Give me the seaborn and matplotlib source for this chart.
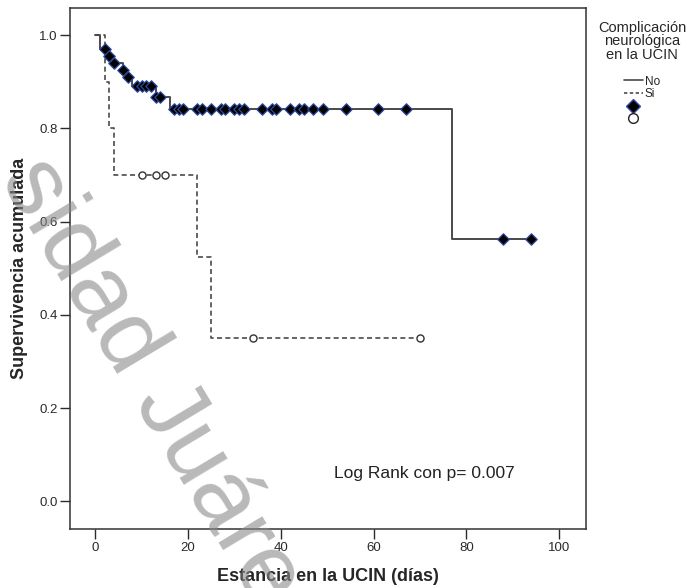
import numpy as np
import pandas as pd
import seaborn as sns
import matplotlib.pyplot as plt
from matplotlib.lines import Line2D

# Curva "No": tiempos de evento y supervivencia acumulada tras cada evento
no_tiempos = [0, 1, 3, 4, 6, 7, 8, 13, 16, 77]
no_superv = [1.0, 0.971, 0.956, 0.941, 0.925, 0.911, 0.891, 0.868, 0.841, 0.563]
no_fin = 94
no_censura = [2, 3, 4, 6, 7, 9, 10, 11, 12, 13, 14, 17, 18, 19, 22, 23, 25, 27, 28,
              30, 31, 32, 36, 38, 39, 42, 44, 45, 47, 49, 54, 61, 67, 88, 94]

# Curva "Si"
si_tiempos = [0, 2, 3, 4, 22, 25]
si_superv = [1.0, 0.9, 0.8, 0.7, 0.525, 0.35]
si_fin = 70
si_censura = [10, 13, 15, 34, 70]

x_ticks = [0, 20, 40, 60, 80, 100]
y_ticks = [0.0, 0.2, 0.4, 0.6, 0.8, 1.0]


def escalon(tiempos, superv, fin):
    return pd.DataFrame({"t": list(tiempos) + [fin], "s": list(superv) + [superv[-1]]})


def nivel(tiempos, superv, t):
    idx = np.searchsorted(tiempos, t, side="right") - 1
    return np.asarray(superv)[idx]


sns.set_style("ticks")
plt.rcParams["font.family"] = ["Liberation Sans", "DejaVu Sans"]

fig = plt.figure(figsize=(6.94, 5.88), dpi=100)
ax = fig.add_axes([0.101, 0.100, 0.743, 0.886])

gris = "#4a4a4a"
no_df = escalon(no_tiempos, no_superv, no_fin)
si_df = escalon(si_tiempos, si_superv, si_fin)
sns.lineplot(data=no_df, x="t", y="s", ax=ax, drawstyle="steps-post", color=gris,
             lw=1.4, estimator=None, sort=False)
sns.lineplot(data=si_df, x="t", y="s", ax=ax, drawstyle="steps-post", color=gris,
             lw=1.2, ls=(0, (3, 2)), estimator=None, sort=False)

no_cens = pd.DataFrame({"t": no_censura, "s": nivel(no_tiempos, no_superv, no_censura)})
si_cens = pd.DataFrame({"t": si_censura, "s": nivel(si_tiempos, si_superv, si_censura)})
sns.scatterplot(data=no_cens, x="t", y="s", ax=ax, marker="D", s=34, color="black",
                edgecolor="#2d4a9e", linewidth=0.9, zorder=3)
sns.scatterplot(data=si_cens, x="t", y="s", ax=ax, marker="o", s=26, facecolor="white",
                edgecolor="#333333", linewidth=1.0, zorder=3)

ax.set_xlim(-5.45, 105.75)
ax.set_ylim(-0.06, 1.058)
ax.set_xticks(x_ticks)
ax.set_yticks(y_ticks)
ax.set_yticklabels([f"{v:.1f}" for v in y_ticks])
ax.tick_params(length=7, width=1, labelsize=9.5, colors="#2a2a2a", pad=2)
for sp in ax.spines.values():
    sp.set_linewidth(1.1)
    sp.set_color("#333333")
ax.set_xlabel("Estancia en la UCIN (días)", fontsize=13, fontweight="bold", labelpad=10)
ax.set_ylabel("Supervivencia acumulada", fontsize=13, fontweight="bold", labelpad=8)

ax.text(51.5, 0.06, "Log Rank con p= 0.007", fontsize=12.5, color="#222222", va="center")

handles = [
    Line2D([], [], color=gris, lw=1.2),
    Line2D([], [], color=gris, lw=1.2, ls=(0, (2, 1.5))),
    Line2D([], [], ls="none", marker="D", markersize=7, color="black",
           markeredgecolor="#2d4a9e"),
    Line2D([], [], ls="none", marker="o", markersize=7, markerfacecolor="white",
           markeredgecolor="#222222"),
]
leg = fig.legend(handles, ["No", "Si", "", ""], title="Complicación\nneurológica\nen la UCIN\n",
                 loc="upper center", bbox_to_anchor=(0.925, 0.975), frameon=False,
                 fontsize=8.5, title_fontsize=10.5, labelspacing=0.05,
                 handlelength=1.6, handletextpad=0.2, borderpad=0)
leg.get_title().set_multialignment("center")
leg.get_title().set_linespacing(0.95)

# marca de agua
fig.text(0.235, 0.315, "sidad Juárez", fontsize=70, color="#8a8a8a", alpha=0.6,
         rotation=-59, rotation_mode="anchor", ha="center", va="center", zorder=10)

fig.savefig("out.png", dpi=100)
